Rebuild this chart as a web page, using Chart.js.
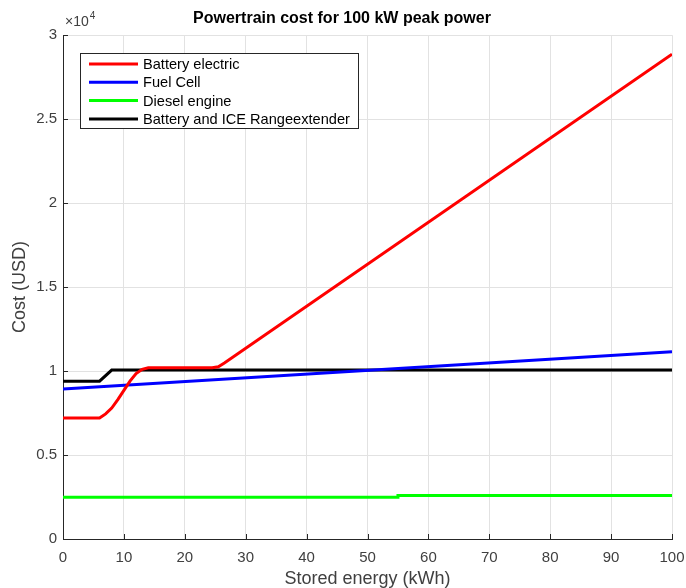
<!DOCTYPE html>
<html lang="en">
<head>
    <meta charset="UTF-8">
    <title>Powertrain cost for 100 kW peak power</title>
    <script src="https://cdn.jsdelivr.net/npm/chart.js"></script>
    <style>
        body { margin: 0; background: #fff; }
        #wrap { width: 686px; height: 588px; }
    </style>
</head>
<body>
<div id="wrap"><canvas id="myChart" width="686" height="588"></canvas></div>
<script>
    // stored energy (kWh) / cost (USD)
    const batteryX = [0, 6, 7, 8, 9, 10, 11, 12, 13, 14, 24.5, 25.5, 26.5, 100];
    const batteryY = [7200, 7200, 7450, 7800, 8300, 8850, 9400, 9850, 10100, 10200, 10200, 10260, 10480, 28870];
    const fuelCellX = [0, 100];
    const fuelCellY = [8930, 11150];
    const dieselX = [0, 55, 55, 100];
    const dieselY = [2490, 2490, 2590, 2590];
    const rangeExtX = [0, 6, 8, 100];
    const rangeExtY = [9400, 9400, 10060, 10060];

    const seriesNames = ['Battery electric', 'Fuel Cell', 'Diesel engine', 'Battery and ICE Rangeextender'];
    const seriesColors = ['#ff0000', '#0000ff', '#00ff00', '#000000'];
    const yTicks = [0, 5000, 10000, 15000, 20000, 25000, 30000];

    const FONT = '"Liberation Sans", Arial, sans-serif';

    const toPoints = (xs, ys) => xs.map((x, i) => ({ x: x, y: ys[i] }));
    const allData = [
        toPoints(batteryX, batteryY),
        toPoints(fuelCellX, fuelCellY),
        toPoints(dieselX, dieselY),
        toPoints(rangeExtX, rangeExtY)
    ];

    // inward tick marks, legend box inside the axes, x10^4 exponent label
    const matlabBits = {
        id: 'matlabBits',
        afterDatasetsDraw(chart) {
            const ctx = chart.ctx;
            const area = chart.chartArea;
            const xs = chart.scales.x, ys = chart.scales.y;
            ctx.save();
            ctx.strokeStyle = '#262626';
            ctx.lineWidth = 1;
            ctx.beginPath();
            xs.ticks.forEach(t => {
                const px = Math.round(xs.getPixelForValue(t.value)) + 0.5;
                ctx.moveTo(px, area.bottom);
                ctx.lineTo(px, area.bottom - 5);
            });
            ys.ticks.forEach(t => {
                const py = Math.round(ys.getPixelForValue(t.value)) + 0.5;
                ctx.moveTo(area.left, py);
                ctx.lineTo(area.left + 5, py);
            });
            ctx.stroke();
            ctx.restore();
        },
        afterDraw(chart) {
            const ctx = chart.ctx;
            const area = chart.chartArea;
            ctx.save();
            // exponent
            ctx.fillStyle = '#404040';
            ctx.font = '14px ' + FONT;
            ctx.textBaseline = 'alphabetic';
            ctx.fillText('\u00d710', area.left + 2, area.top - 9);
            const w = ctx.measureText('\u00d710').width;
            ctx.font = '10px ' + FONT;
            ctx.fillText('4', area.left + 2 + w + 1, area.top - 16);

            // legend
            const bx = 80, by = 53, bw = 278, bh = 75;
            ctx.fillStyle = '#fff';
            ctx.fillRect(bx, by, bw, bh);
            ctx.strokeStyle = '#262626';
            ctx.lineWidth = 1;
            ctx.strokeRect(bx + 0.5, by + 0.5, bw, bh);
            ctx.font = '14.6px ' + FONT;
            ctx.textBaseline = 'middle';
            chart.data.datasets.forEach((ds, i) => {
                const yy = 64 + i * 18.3;
                ctx.strokeStyle = ds.borderColor;
                ctx.lineWidth = 3;
                ctx.beginPath();
                ctx.moveTo(89, yy);
                ctx.lineTo(138, yy);
                ctx.stroke();
                ctx.fillStyle = '#000';
                ctx.fillText(ds.label, 143, yy + 1);
            });
            ctx.restore();
        }
    };

    const ctx = document.getElementById('myChart').getContext('2d');
    const myChart = new Chart(ctx, {
        type: 'line',
        data: {
            datasets: seriesNames.map((name, i) => ({
                label: name,
                data: allData[i],
                borderColor: seriesColors[i],
                backgroundColor: seriesColors[i],
                borderWidth: 3,
                pointRadius: 0,
                tension: 0,
                fill: false
            }))
        },
        options: {
            responsive: false,
            animation: false,
            layout: { padding: { left: 0, right: 2, top: 0, bottom: 0 } },
            plugins: {
                legend: { display: false },
                tooltip: { enabled: false },
                title: {
                    display: true,
                    text: 'Powertrain cost for 100 kW peak power',
                    color: '#000',
                    font: { family: FONT, size: 16, weight: 'bold' },
                    padding: { top: 9, bottom: 7 }
                }
            },
            scales: {
                x: {
                    type: 'linear',
                    min: 0,
                    max: 100,
                    ticks: {
                        stepSize: 10,
                        color: '#404040',
                        font: { family: FONT, size: 15 },
                        padding: 10
                    },
                    grid: { color: '#e2e2e2', drawTicks: false },
                    border: { color: '#262626', width: 1 },
                    title: {
                        display: true,
                        text: 'Stored energy (kWh)',
                        color: '#404040',
                        font: { family: FONT, size: 18 },
                        padding: { top: 0, bottom: -2 }
                    },
                    afterFit: (scale) => {
                        scale.height = 49;
                        scale.paddingLeft = 0;
                        scale.paddingRight = 0;
                    }
                },
                y: {
                    min: 0,
                    max: 30000,
                    afterBuildTicks: (scale) => { scale.ticks = yTicks.map(v => ({ value: v })); },
                    ticks: {
                        color: '#404040',
                        font: { family: FONT, size: 15 },
                        padding: 6,
                        callback: (v) => String(v / 10000)
                    },
                    grid: { color: '#e2e2e2', drawTicks: false },
                    border: { color: '#262626', width: 1 },
                    title: {
                        display: true,
                        text: 'Cost (USD)',
                        color: '#404040',
                        font: { family: FONT, size: 18 },
                        padding: { top: 9, bottom: 0 }
                    },
                    afterFit: (scale) => {
                        scale.width = 63;
                        scale.paddingTop = 0;
                        scale.paddingBottom = 0;
                    }
                },
                // empty spacer on the right so the title centres like the original
                spacer: {
                    position: 'right',
                    min: 0,
                    max: 1,
                    ticks: { display: false },
                    grid: { display: false },
                    border: { display: false },
                    afterFit: (scale) => {
                        scale.width = 12;
                        scale.paddingTop = 0;
                        scale.paddingBottom = 0;
                    }
                }
            }
        },
        plugins: [matlabBits]
    });
</script>
</body>
</html>
